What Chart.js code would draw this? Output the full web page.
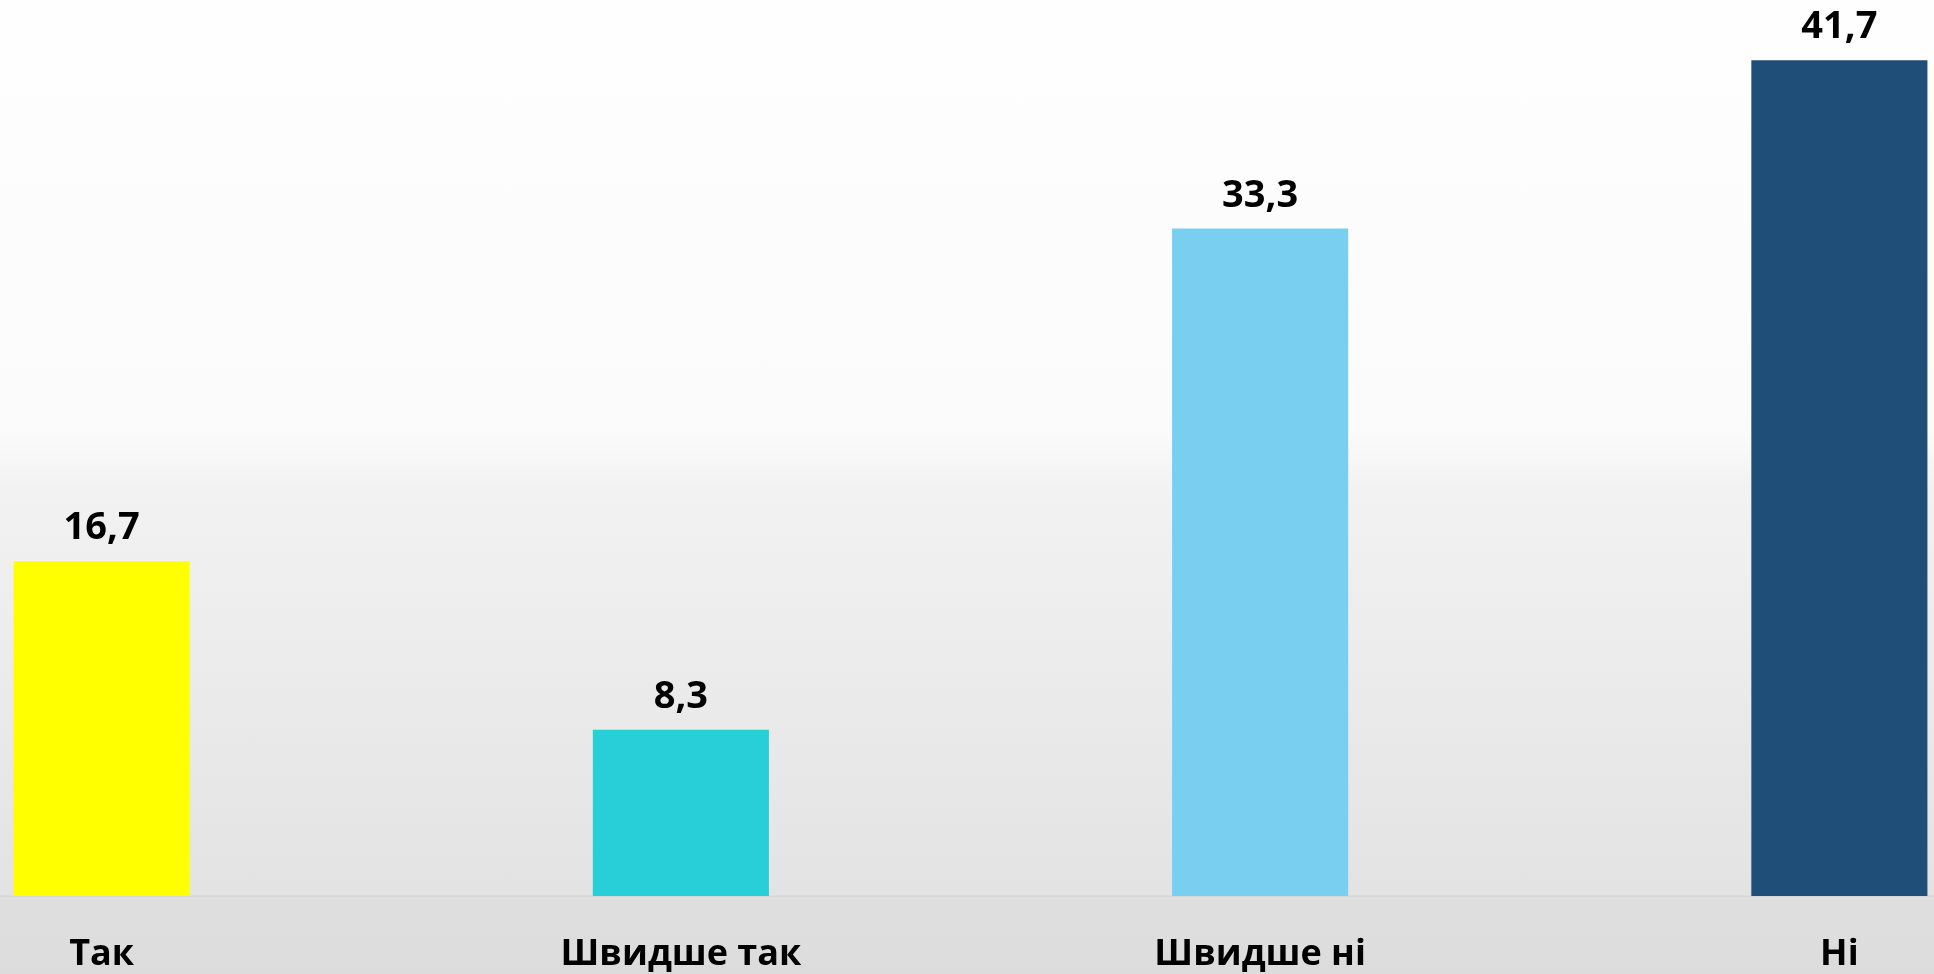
<!DOCTYPE html>
<html>
<head>
<meta charset="utf-8">
<script src="https://cdn.jsdelivr.net/npm/chart.js@4"></script>
<style>
  html, body { margin: 0; padding: 0; width: 1934px; height: 974px; overflow: hidden; }
  body {
    background: linear-gradient(to bottom, #fefefe 0px, #fbfbfb 430px, #f2f2f2 490px, #e3e3e3 895px, #d6d6d6 896px, #d9d9d9 897px, #dfdfdf 898px, #dcdcdc 974px);
    position: relative;
  }
  #wrap { position: absolute; left: -188px; top: 0; width: 2317px; height: 974px; }
</style>
</head>
<body>
<div id="wrap"><canvas id="chart"></canvas></div>
<script>
const categories = ['Так', 'Швидше так', 'Швидше ні', 'Ні'];
const values = [16.7, 8.3, 33.3, 41.7];
const barColors = ['#ffff00', '#28ced8', '#79cff0', '#1f4e78'];

// value labels above the bars, comma decimal
const valueLabels = {
  id: 'valueLabels',
  afterDatasetsDraw(chart) {
    const ctx = chart.ctx;
    const meta = chart.getDatasetMeta(0);
    ctx.save();
    ctx.font = 'bold 38px "Open Sans"';
    ctx.fillStyle = '#000';
    ctx.textAlign = 'center';
    ctx.textBaseline = 'alphabetic';
    meta.data.forEach((bar, i) => {
      ctx.fillText(values[i].toFixed(1).replace('.', ','), bar.x, bar.y - 22);
    });
    ctx.restore();
  }
};

new Chart(document.getElementById('chart'), {
  type: 'bar',
  data: {
    labels: categories,
    datasets: [{
      data: values,
      backgroundColor: barColors,
      borderWidth: 0,
      categoryPercentage: 1,
      barPercentage: 0.304
    }]
  },
  options: {
    responsive: true,
    maintainAspectRatio: false,
    animation: false,
    layout: { padding: { top: 0, bottom: 1, left: 0, right: 0 } },
    plugins: {
      legend: { display: false },
      tooltip: { enabled: false }
    },
    scales: {
      x: {
        grid: { display: false, drawTicks: false },
        border: { display: false },
        afterFit(scale) { scale.height = 77; },
        ticks: {
          color: '#000',
          padding: 37,
          font: { family: '"Open Sans"', size: 36, weight: 'bold' }
        }
      },
      y: {
        display: false,
        min: 0,
        max: 44.7
      }
    }
  },
  plugins: [valueLabels]
});
</script>
</body>
</html>
